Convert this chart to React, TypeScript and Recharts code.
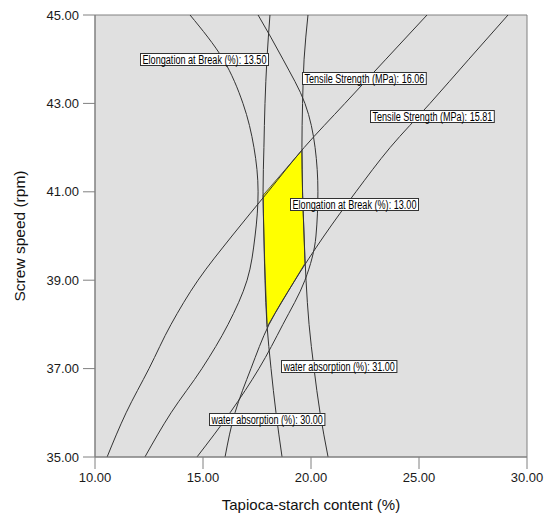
import React from "react";
import {
  ComposedChart,
  Line,
  Area,
  XAxis,
  YAxis,
  CartesianGrid,
  ReferenceArea,
  ReferenceDot,
} from "recharts";

const yLevels = [35, 36, 37, 38, 39, 40, 41, 42, 43, 44, 45];

// tapioca-starch content (%) of each contour at the levels above
const tensile1606 = [10.56, 11.44, 12.5, 13.52, 14.77, 16.34, 18.01, 19.68, 21.57, 23.47, 25.37];
const tensile1581 = [16.02, 16.48, 17.22, 18.06, 19.26, 20.6, 22.08, 23.66, 25.51, 27.31, 29.12];
const elong1350 = [12.31, 13.52, 14.95, 16.16, 17.04, 17.41, 17.55, 17.36, 16.85, 15.93, 14.4];
const elong1300 = [14.72, 16.25, 17.59, 18.7, 19.72, 20.23, 20.32, 20.19, 19.72, 18.7, 17.55];
const water3000 = [18.66, 18.38, 18.15, 17.96, 17.87, 17.82, 17.78, 17.82, 17.87, 17.96, 18.1];
const water3100 = [20.79, 20.42, 20.14, 19.91, 19.77, 19.68, 19.61, 19.58, 19.61, 19.68, 19.86];

// feasible (yellow) window
const windowY = [41.94, 40.92, 40, 39.38, 37.95];
const windowLeft = [19.58, 17.78, 17.82, 17.86, 17.97];
const windowRight = [19.58, 19.61, 19.68, 19.72, 17.97];

const labelTexts = [
  "Elongation at Break (%): 13.50",
  "Tensile Strength (MPa): 16.06",
  "Tensile Strength (MPa): 15.81",
  "Elongation at Break (%): 13.00",
  "water absorption (%): 31.00",
  "water absorption (%): 30.00",
];
const labelX = [15.05, 22.43, 25.58, 21.99, 21.3, 17.96];
const labelY = [44.0, 43.58, 42.72, 40.73, 37.05, 35.86];

const xTicks = [10, 15, 20, 25, 30];
const yTicks = [35, 37, 39, 41, 43, 45];

const FONT = "'Liberation Sans', Arial, sans-serif";
const LINE = "#333";
const AXIS = "#808080";

const toPoints = (xs: number[]) => xs.map((x, i) => ({ y: yLevels[i], x }));

const contours = [tensile1606, tensile1581, elong1350, elong1300, water3000, water3100].map(toPoints);

const windowData = windowY.map((y, i) => ({ y, x: [windowLeft[i], windowRight[i]] }));

function LabelBox(props: any) {
  const { cx, cy, text } = props;
  const w = text.length * 4.2 + 2;
  const left = Math.round(cx - w / 2) + 0.5;
  const top = Math.round(cy - 6) + 0.5;
  return (
    <g>
      <rect x={left} y={top} width={w} height={12} fill="#fff" stroke="#333" strokeWidth={1} />
      <text
        x={left + 2}
        y={top + 10}
        fontSize={12.5}
        fontFamily={FONT}
        fill="#000"
        textLength={w - 4}
        lengthAdjust="spacingAndGlyphs"
      >
        {text}
      </text>
    </g>
  );
}

export default function App() {
  return (
    <div style={{ position: "absolute", left: 0, top: 0, background: "#fff" }}>
      <ComposedChart
        width={550}
        height={517}
        layout="vertical"
        margin={{ top: 15, right: 23, bottom: 0, left: 0 }}
      >
        <CartesianGrid horizontal={false} vertical={false} fill="#e0e0e0" />
        <XAxis
          type="number"
          dataKey="x"
          domain={[10, 30]}
          ticks={xTicks}
          allowDataOverflow
          tickFormatter={(v) => v.toFixed(2)}
          stroke={AXIS}
          tickSize={12}
          tickMargin={4}
          height={60}
          tick={{ fill: "#1a1a1a", fontSize: 13, fontFamily: FONT }}
          label={{
            value: "Tapioca-starch content (%)",
            position: "insideBottom",
            offset: 7,
            fill: "#111",
            fontSize: 15,
            fontFamily: FONT,
          }}
        />
        <YAxis
          type="number"
          dataKey="y"
          domain={[35, 45]}
          ticks={yTicks}
          reversed
          allowDataOverflow
          tickFormatter={(v) => v.toFixed(2)}
          stroke={AXIS}
          tickSize={12}
          tickMargin={4}
          width={95}
          tick={{ fill: "#1a1a1a", fontSize: 13, fontFamily: FONT }}
          label={{
            value: "Screw speed (rpm)",
            angle: -90,
            position: "insideLeft",
            offset: 19,
            fill: "#111",
            fontSize: 15.5,
            fontFamily: FONT,
            style: { textAnchor: "middle" },
          }}
        />
        <Area
          data={windowData}
          dataKey="x"
          type="linear"
          fill="#ffff00"
          fillOpacity={1}
          stroke="#555"
          strokeWidth={1}
          isAnimationActive={false}
        />
        {contours.map((pts, i) => (
          <Line
            key={i}
            data={pts}
            dataKey="x"
            type="monotone"
            stroke={LINE}
            strokeWidth={1}
            dot={false}
            activeDot={false}
            isAnimationActive={false}
          />
        ))}
        <ReferenceArea x1={10} x2={30} y1={35} y2={45} fill="none" stroke={AXIS} strokeWidth={1} />
        {labelTexts.map((t, i) => (
          <ReferenceDot
            key={t}
            x={labelX[i]}
            y={labelY[i]}
            r={1}
            shape={(p: any) => <LabelBox {...p} text={t} />}
          />
        ))}
      </ComposedChart>
    </div>
  );
}
